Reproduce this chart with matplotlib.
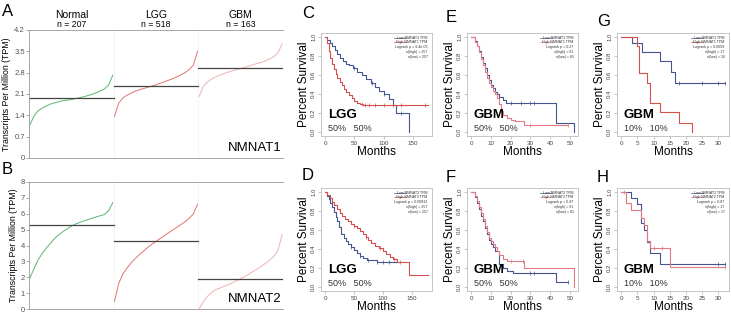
import numpy as np
import matplotlib
matplotlib.use("Agg")
import matplotlib.pyplot as plt

plt.rcParams['font.family'] = ['Liberation Sans', 'DejaVu Sans']

W, H = 731, 315

# ---- expression strip data (sorted values, evenly spaced across each group) ----
groups = ["Normal", "LGG", "GBM"]
group_n = ["n = 207", "n = 518", "n = 163"]
group_colors = ["#5cb56f", "#e07570", "#efb3b3"]

nmnat1_normal = [1.08, 1.38, 1.55, 1.64, 1.71, 1.77, 1.81, 1.85, 1.88, 1.90, 1.92,
                 1.95, 1.98, 2.01, 2.05, 2.09, 2.14, 2.20, 2.27, 2.40, 2.72]
nmnat1_lgg = [1.36, 1.80, 1.97, 2.06, 2.13, 2.19, 2.24, 2.28, 2.32, 2.36, 2.40,
              2.45, 2.50, 2.55, 2.60, 2.66, 2.73, 2.80, 2.90, 3.05, 3.50]
nmnat1_gbm = [2.02, 2.35, 2.50, 2.59, 2.66, 2.72, 2.77, 2.82, 2.86, 2.90, 2.94,
              2.98, 3.02, 3.06, 3.10, 3.14, 3.19, 3.25, 3.33, 3.45, 3.75]
nmnat1_medians = [1.96, 2.37, 2.94]

nmnat2_normal = [1.94, 2.55, 3.10, 3.50, 3.85, 4.15, 4.45, 4.68, 4.88, 5.05, 5.22,
                 5.35, 5.45, 5.55, 5.63, 5.72, 5.80, 5.88, 5.95, 6.20, 6.70]
nmnat2_lgg = [0.48, 1.60, 2.20, 2.58, 2.90, 3.18, 3.42, 3.65, 3.88, 4.08, 4.26,
              4.44, 4.62, 4.80, 4.97, 5.14, 5.32, 5.50, 5.72, 5.98, 6.60]
nmnat2_gbm = [0.02, 0.45, 0.80, 1.05, 1.22, 1.32, 1.42, 1.53, 1.65, 1.78, 1.92,
              2.05, 2.20, 2.36, 2.52, 2.70, 2.88, 3.08, 3.32, 3.70, 4.70]
nmnat2_medians = [5.30, 4.26, 1.92]

nmnat1_ticks = [0, 0.7, 1.4, 2.1, 2.8, 3.5, 4.2]
nmnat2_ticks = [0, 1, 2, 3, 4, 5, 6, 7, 8]

# ---- Kaplan-Meier step data (time in months, survival after step) ----
C_low_t = [0, 4, 8, 12, 16, 20, 25, 30, 35, 40, 47, 55, 62, 70, 78, 85, 92, 100, 108, 115, 120, 143]
C_low_s = [1, .97, .93, .90, .86, .82, .78, .75, .72, .70, .67, .63, .60, .56, .52, .47, .43, .40, .35, .29, .20, 0]
C_high_t = [0, 3, 6, 9, 12, 15, 18, 21, 25, 28, 32, 36, 40, 45, 50, 55, 60, 65, 70, 175]
C_high_s = [1, .93, .85, .78, .72, .66, .61, .57, .53, .49, .45, .42, .39, .36, .33, .31, .30, .29, .28, .28]
C_low_c = [50, 80, 100, 130]
C_high_c = [62, 68, 75, 85, 100, 115, 130, 170]

D_low_t = [0, 3, 6, 9, 12, 15, 18, 21, 24, 28, 32, 36, 40, 45, 50, 55, 60, 66, 72, 80, 90, 125]
D_low_s = [1, .96, .92, .88, .84, .79, .74, .69, .63, .56, .52, .48, .45, .42, .39, .36, .33, .31, .29, .28, .26, .26]
D_high_t = [0, 4, 8, 12, 16, 20, 25, 30, 35, 40, 45, 50, 55, 60, 65, 70, 75, 80, 87, 94, 100, 106, 112, 118, 124, 145, 178]
D_high_s = [1, .97, .93, .89, .86, .82, .78, .75, .72, .69, .66, .64, .62, .59, .56, .53, .50, .46, .43, .41, .38, .35, .32, .30, .26, .13, .13]
D_low_c = [45, 60, 75, 90, 100, 110]
D_high_c = [50, 70, 95, 120, 130]

E_low_t = [0, 2, 3, 4, 5, 6, 7, 8, 9, 10, 11, 12, 13, 14, 16, 17.5, 43, 52]
E_low_s = [1, .96, .90, .85, .79, .73, .67, .60, .55, .50, .46, .42, .40, .37, .34, .31, .10, 0]
E_high_t = [0, 2, 3, 4, 5, 6, 7, 8, 9, 10, 11, 12, 13, 14, 15, 16, 18, 20, 22, 27, 49]
E_high_s = [1, .95, .90, .84, .77, .70, .63, .57, .52, .47, .43, .40, .36, .30, .22, .18, .15, .13, .12, .08, .08]
E_low_c = [20, 25, 30, 32]
E_high_c = [30, 49]

F_low_t = [0, 2, 3, 4, 5, 6, 7, 8, 9, 10, 11, 12, 14, 16, 18, 21, 43, 49]
F_low_s = [1, .95, .88, .82, .75, .69, .62, .56, .50, .45, .42, .38, .24, .20, .17, .15, .05, .05]
F_high_t = [0, 2, 3, 4, 5, 6, 7, 8, 9, 10, 11, 12, 13, 14, 16, 18, 27, 52]
F_high_s = [1, .96, .90, .84, .78, .71, .64, .58, .52, .48, .45, .42, .38, .34, .30, .27, .20, 0]
F_low_c = [30, 32, 49]
F_high_c = [20, 26]

G_low_t = [0, 3.5, 6.5, 12, 15.5, 16.5, 32]
G_low_s = [1, .93, .84, .75, .63, .52, .52]
G_high_t = [0, 5, 5.5, 8, 9, 12, 18, 22]
G_high_s = [1, .90, .62, .52, .31, .21, .10, 0]
G_low_c = [18, 25, 30, 32]
G_high_c = []

H_low_t = [0, 3, 5, 6, 7, 8, 9, 12, 32]
H_low_s = [1, .93, .87, .67, .60, .47, .36, .24, .24]
H_high_t = [0, 1.5, 3, 6, 7, 8, 9, 15, 32]
H_high_s = [1, .88, .81, .73, .65, .48, .41, .21, .21]
H_low_c = [30, 32]
H_high_c = [1, 10, 12.5, 32]

BLUE = "#45558f"
RED = "#d4504a"
PINK = "#e27a86"


def px_axes(fig, left, top, right, bottom):
    return fig.add_axes([left / W, 1 - bottom / H, (right - left) / W, (bottom - top) / H])


def strip_panel(fig, box, series, medians, ticks, gene, letter, letter_xy):
    ax = px_axes(fig, *box)
    for i, (vals, col) in enumerate(zip(series, group_colors)):
        xs = i + np.linspace(0.01, 0.99, len(vals))
        ax.plot(xs, vals, color=col, lw=0.7)
        ax.plot([i, i + 1], [medians[i], medians[i]], color="#444444", lw=0.9)
    for b in (1, 2):
        ax.axvline(b, color="#f2f2f2", lw=0.6, zorder=0)
    ax.set_xlim(0, 3)
    ax.set_ylim(ticks[0], ticks[-1])
    ax.set_xticks([])
    ax.set_yticks(ticks)
    ax.set_yticklabels([("%g" % t) for t in ticks], fontsize=5.5, color="#555555")
    ax.tick_params(axis='y', length=2, width=0.5, color="#888888", pad=1)
    ax.spines["right"].set_visible(False)
    for s in ("top", "bottom", "left"):
        ax.spines[s].set_color("#999999")
        ax.spines[s].set_linewidth(0.6)
    ax.set_ylabel("Transcripts Per Million (TPM)", fontsize=6.3, labelpad=2)
    ax.text(0.995, 0.035, gene, transform=ax.transAxes, ha='right', va='bottom', fontsize=9.5)
    fig.text(letter_xy[0] / W, 1 - letter_xy[1] / H, letter, fontsize=12, ha='left', va='center')
    return ax


def km_panel(fig, box, curves, xmax, xticks, gene, pval, nhigh, nlow, cancer, pct, letter, letter_xy, red):
    ax = px_axes(fig, *box)
    (lt, ls, lc), (ht, hs, hc) = curves
    for t, s, c, col in ((lt, ls, lc, BLUE), (ht, hs, hc, red)):
        t = np.asarray(t, float)
        s = np.asarray(s, float)
        ax.step(t, s, where='post', color=col, lw=0.8)
        if len(c):
            idx = np.searchsorted(t, c, side='right') - 1
            ax.plot(c, s[idx], ls='none', marker='|', ms=2.5, mew=0.5, color=col)
    pad = xmax * 0.04
    ax.set_xlim(-pad, xmax + pad)
    ax.set_ylim(-0.04, 1.04)
    ax.set_xticks(xticks)
    ax.set_xticklabels([str(x) for x in xticks], fontsize=4.5, color="#444444")
    ax.set_yticks([0, .2, .4, .6, .8, 1.0])
    ax.set_yticklabels(["0.0", "0.2", "0.4", "0.6", "0.8", "1.0"], fontsize=4.3,
                       rotation=90, va='center', color="#444444")
    ax.tick_params(length=2, width=0.4, color="#999999", pad=1.5)
    for sp in ax.spines.values():
        sp.set_color("#bbbbbb")
        sp.set_linewidth(0.6)
    ax.set_xlabel("Months", fontsize=8.5, labelpad=0)
    ax.set_ylabel("Percent Survival", fontsize=8.5, labelpad=1)

    # legend block
    lx0, lx1 = 0.66, 0.77
    ax.plot([lx0, lx1], [0.955, 0.955], transform=ax.transAxes, color=BLUE, lw=0.5)
    ax.plot([lx0, lx1], [0.915, 0.915], transform=ax.transAxes, color=red, lw=0.5)
    lines = ["Low %s TPM" % gene, "High %s TPM" % gene, "Logrank p = %s" % pval,
             "n(high) = %d" % nhigh, "n(low) = %d" % nlow]
    ys = [0.955, 0.915, 0.865, 0.815, 0.765]
    for txt, y in zip(lines, ys):
        ax.text(0.96, y, txt, transform=ax.transAxes, fontsize=2.6, ha='right', va='center', color="#333333")

    ax.text(0.06, 0.15, cancer, transform=ax.transAxes, fontsize=9.5, fontweight='bold', ha='left', va='bottom')
    ax.text(0.06, 0.03, "%s   %s" % (pct, pct), transform=ax.transAxes, fontsize=6.5,
            ha='left', va='bottom', color="#333333")
    fig.text(letter_xy[0] / W, 1 - letter_xy[1] / H, letter, fontsize=12, ha='left', va='center')
    return ax


fig = plt.figure(figsize=(W / 100, H / 100), dpi=100)

axA = strip_panel(fig, (29, 30, 283, 158), [nmnat1_normal, nmnat1_lgg, nmnat1_gbm],
                  nmnat1_medians, nmnat1_ticks, "NMNAT1", "A", (2, 12))
for i, (g, n) in enumerate(zip(groups, group_n)):
    axA.text(i + 0.5, 1.12, g, transform=axA.get_xaxis_transform(), ha='center', va='center', fontsize=7.5)
    axA.text(i + 0.5, 1.04, n, transform=axA.get_xaxis_transform(), ha='center', va='center', fontsize=6.3)

strip_panel(fig, (29, 182, 283, 309), [nmnat2_normal, nmnat2_lgg, nmnat2_gbm],
            nmnat2_medians, nmnat2_ticks, "NMNAT2", "B", (2, 169))

km_panel(fig, (321, 33, 432, 136), ((C_low_t, C_low_s, C_low_c), (C_high_t, C_high_s, C_high_c)),
         175, [0, 50, 100, 150], "NMNAT1", "9.4e-06", 257, 257, "LGG", "50%", "C", (302, 14), RED)
km_panel(fig, (321, 188, 432, 291), ((D_low_t, D_low_s, D_low_c), (D_high_t, D_high_s, D_high_c)),
         178, [0, 50, 100, 150], "NMNAT2", "0.00813", 257, 257, "LGG", "50%", "D", (302, 176), RED)
km_panel(fig, (467, 33, 578, 136), ((E_low_t, E_low_s, E_low_c), (E_high_t, E_high_s, E_high_c)),
         52, [0, 10, 20, 30, 40, 50], "NMNAT1", "0.27", 81, 81, "GBM", "50%", "E", (446, 17), PINK)
km_panel(fig, (467, 188, 578, 291), ((F_low_t, F_low_s, F_low_c), (F_high_t, F_high_s, F_high_c)),
         52, [0, 10, 20, 30, 40, 50], "NMNAT2", "0.47", 81, 81, "GBM", "50%", "F", (446, 178), PINK)
km_panel(fig, (617, 33, 729, 136), ((G_low_t, G_low_s, G_low_c), (G_high_t, G_high_s, G_high_c)),
         32, [0, 5, 10, 15, 20, 25, 30], "NMNAT1", "0.0059", 17, 16, "GBM", "10%", "G", (597, 21), RED)
km_panel(fig, (617, 188, 729, 291), ((H_low_t, H_low_s, H_low_c), (H_high_t, H_high_s, H_high_c)),
         32, [0, 5, 10, 15, 20, 25, 30], "NMNAT2", "0.87", 17, 17, "GBM", "10%", "H", (597, 178), PINK)

fig.savefig("out.png", dpi=100)
